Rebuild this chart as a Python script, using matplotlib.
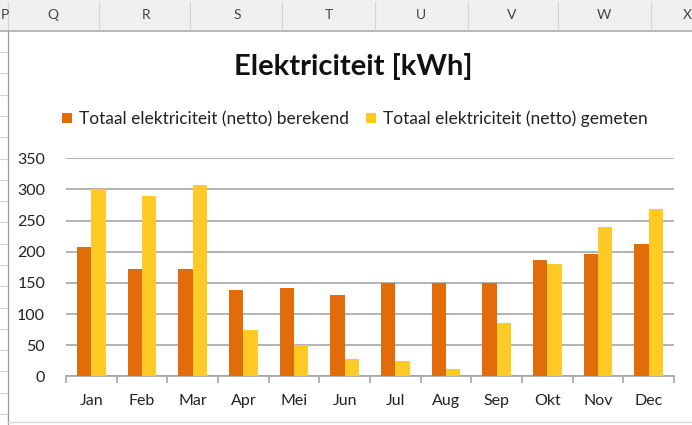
import matplotlib
matplotlib.use("Agg")
import matplotlib.pyplot as plt
import numpy as np
from matplotlib.patches import Rectangle
from matplotlib.lines import Line2D

months = ["Jan", "Feb", "Mar", "Apr", "Mei", "Jun", "Jul", "Aug", "Sep", "Okt", "Nov", "Dec"]
berekend = [208, 173, 173, 139, 141, 130, 149, 150, 149, 186, 197, 213]
gemeten = [300, 289, 307, 74, 51, 28, 24, 12, 86, 181, 239, 269]
series_names = ["Totaal elektriciteit (netto) berekend", "Totaal elektriciteit (netto) gemeten"]
col_letters = ["P", "Q", "R", "S", "T", "U", "V", "W", "X"]
yticks = [0, 50, 100, 150, 200, 250, 300, 350]

c_orange = "#E36C0A"
c_yellow = "#FFC926"

plt.rcParams['font.family'] = ['Lato', 'DejaVu Sans']

W, H = 692, 425
fig = plt.figure(figsize=(W / 100, H / 100), dpi=100)

def fx(px):
    return px / W

def fy(py):
    return 1 - py / H

# Excel sheet decoration: header band
hdr = Rectangle((0, fy(31)), 1, 31 / H, transform=fig.transFigure, facecolor="#F0F0F0",
                edgecolor="none", zorder=0)
fig.patches.append(hdr)
fig.add_artist(Line2D([0, 1], [fy(31), fy(31)], transform=fig.transFigure, color="#ABABAB", lw=1.2))
seps = [8, 99, 190, 282, 375, 468, 558, 651]
for s in seps:
    fig.add_artist(Line2D([fx(s), fx(s)], [fy(2), fy(30)], transform=fig.transFigure,
                          color="#D4D4D4", lw=0.8))
letter_x = [0.5, 53, 146, 237, 329, 421, 512, 604, 691.5]
letter_ha = ["left"] + ["center"] * 7 + ["right"]
for lx, lt, ha in zip(letter_x, col_letters, letter_ha):
    fig.text(fx(lx), fy(15), lt, ha=ha, va="center", fontsize=10, color="#444444")
# left strip of row lines and border
fig.add_artist(Line2D([fx(7.5), fx(7.5)], [fy(31), 0], transform=fig.transFigure, color="#9A9A9A", lw=0.9))
for ry in np.arange(52, 425, 21.3):
    fig.add_artist(Line2D([0, fx(7)], [fy(ry), fy(ry)], transform=fig.transFigure, color="#D4D4D4", lw=0.8))
fig.add_artist(Line2D([fx(8), 1], [fy(422), fy(422)], transform=fig.transFigure, color="#D9D9D9", lw=1))

# Plot area
left, right, top, bottom = 66, 674, 158.3, 376.3
ax = fig.add_axes([fx(left), fy(bottom), fx(right - left), (bottom - top) / H])
x = np.arange(len(months))
bw = 0.283
ax.bar(x - bw / 2, berekend, width=bw, color=c_orange, zorder=3, label=series_names[0])
ax.bar(x + bw / 2, gemeten, width=bw, color=c_yellow, zorder=3, label=series_names[1])
ax.set_xlim(-0.5, len(months) - 0.5)
ax.set_ylim(0, 350)
ax.set_yticks(yticks)
ax.set_yticklabels([str(v) for v in yticks], fontsize=11.5, color="#222222")
ax.yaxis.grid(True, color="#A6A6A6", lw=1.2, zorder=0)
ax.set_axisbelow(True)
for sp in ["top", "right", "left"]:
    ax.spines[sp].set_visible(False)
ax.spines["bottom"].set_color("#A6A6A6")
ax.spines["bottom"].set_linewidth(1.2)
ax.tick_params(axis="y", length=0, pad=15)
ax.set_xticks(x)
ax.set_xticklabels(months, fontsize=11.5, color="#222222")
ax.tick_params(axis="x", length=0, pad=13)
ax.set_xticks(np.arange(-0.5, len(months)), minor=True)
ax.tick_params(axis="x", which="minor", length=5, color="#A6A6A6", width=1.2, direction="out")

fig.text(fx(353), fy(67), "Elektriciteit [kWh]", ha="center", va="center", fontsize=21,
         fontweight="bold", color="#111111")
leg = fig.legend(loc="center", bbox_to_anchor=(fx(355), fy(119)), ncol=2, frameon=False,
                 fontsize=12.5, handlelength=0.55, handleheight=0.55, handletextpad=0.4,
                 columnspacing=1.0)
for t in leg.get_texts():
    t.set_color("#222222")

fig.savefig("out.png", dpi=100)
